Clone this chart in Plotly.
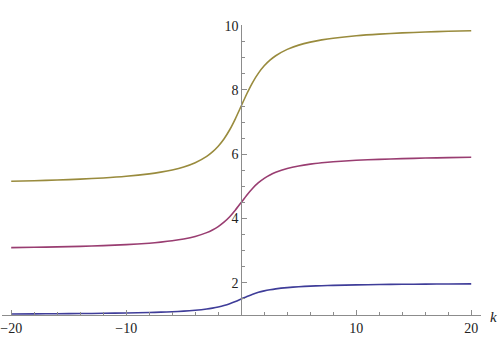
import plotly.graph_objects as go

k = [-20, -18, -16, -14, -12, -10, -8, -7, -6, -5, -4, -3, -2.5, -2, -1.5, -1, -0.5,
     0, 0.5, 1, 1.5, 2, 2.5, 3, 4, 5, 6, 7, 8, 10, 12, 14, 16, 18, 20]

lower = [1.032, 1.035, 1.040, 1.045, 1.053, 1.063, 1.078, 1.089, 1.102, 1.121, 1.148,
         1.187, 1.215, 1.250, 1.295, 1.352, 1.422, 1.500, 1.578, 1.648, 1.705, 1.750,
         1.785, 1.813, 1.852, 1.879, 1.898, 1.911, 1.922, 1.937, 1.947, 1.955, 1.960,
         1.965, 1.968]

middle = [3.095, 3.106, 3.119, 3.136, 3.158, 3.188, 3.234, 3.266, 3.307, 3.363, 3.443,
          3.562, 3.644, 3.750, 3.886, 4.057, 4.266, 4.500, 4.734, 4.943, 5.114, 5.250,
          5.356, 5.438, 5.557, 5.637, 5.693, 5.734, 5.766, 5.812, 5.842, 5.864, 5.881,
          5.894, 5.905]

upper = [5.158, 5.176, 5.198, 5.226, 5.263, 5.314, 5.390, 5.443, 5.512, 5.606, 5.738,
         5.936, 6.074, 6.250, 6.476, 6.762, 7.110, 7.500, 7.890, 8.238, 8.524, 8.750,
         8.926, 9.064, 9.262, 9.394, 9.488, 9.557, 9.610, 9.686, 9.737, 9.774, 9.802,
         9.824, 9.842]

x_tickvals = [-20, -10, 10, 20]
x_ticktext = ["\u221220", "\u221210", "10", "20"]
x_minor = [-18, -16, -14, -12, -8, -6, -4, -2, 2, 4, 6, 8, 12, 14, 16, 18]
y_tickvals = [2, 4, 6, 8, 10]
y_ticktext = ["2", "4", "6", "8", "10"]
y_minor = [1.5, 2.5, 3, 3.5, 4.5, 5, 5.5, 6.5, 7, 7.5, 8.5, 9, 9.5]

colors = ["#3F3D99", "#993D71", "#998B3D"]

fig = go.Figure()
for ys, c in zip([lower, middle, upper], colors):
    fig.add_trace(go.Scatter(x=k, y=ys, mode="lines",
                             line=dict(color=c, width=1.6, shape="spline", smoothing=0.6),
                             showlegend=False, hoverinfo="skip"))

axis_color = "#8c8c8c"
serif = "Liberation Serif"
font = dict(family=serif, size=14, color="#222222")

fig.update_layout(
    width=500, height=338,
    margin=dict(l=2, r=19, t=25, b=23, autoexpand=False),
    paper_bgcolor="white", plot_bgcolor="white",
    font=font,
    xaxis=dict(range=[-20.8, 20.85], showgrid=False, zeroline=False, automargin=False,
               showline=True, linecolor=axis_color, linewidth=1,
               tickmode="array", tickvals=x_tickvals, ticktext=x_ticktext,
               ticks="inside", ticklen=5, tickcolor=axis_color, tickwidth=1,
               ticklabeloverflow="allow",
               minor=dict(tickmode="array", tickvals=x_minor, ticks="inside",
                          ticklen=3, tickcolor=axis_color, tickwidth=1, showgrid=False),
               tickfont=font),
    yaxis=dict(range=[1.0, 10.02], showgrid=False, zeroline=False, automargin=False,
               anchor="free", position=0.4994,
               showline=True, linecolor=axis_color, linewidth=1,
               tickmode="array", tickvals=y_tickvals, ticktext=y_ticktext,
               ticks="inside", ticklen=5, tickcolor=axis_color, tickwidth=1,
               ticklabeloverflow="allow",
               minor=dict(tickmode="array", tickvals=y_minor, ticks="inside",
                          ticklen=3, tickcolor=axis_color, tickwidth=1, showgrid=False),
               tickfont=font),
    annotations=[dict(text="<i>k</i>", xref="paper", x=1, xanchor="left", xshift=7,
                      yref="y", y=1.0, yanchor="middle", yshift=-2, showarrow=False,
                      font=dict(family=serif, size=15, color="#222222"))],
)

fig.write_html("out.html", config={"displayModeBar": False},
               post_script="document.body.style.margin='0';document.body.style.padding='0';")
